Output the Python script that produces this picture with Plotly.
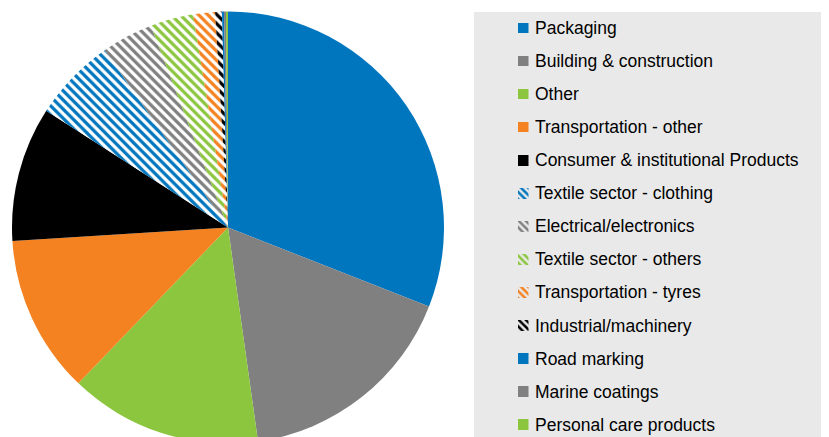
import plotly.graph_objects as go

W, H = 829, 437
OFF = 8  # page body margin offset

labels = ["Packaging", "Building & construction", "Other", "Transportation - other",
          "Consumer & institutional Products", "Textile sector - clothing",
          "Electrical/electronics", "Textile sector - others", "Transportation - tyres",
          "Industrial/machinery", "Road marking", "Marine coatings", "Personal care products"]
values = [30.96, 16.82, 14.39, 11.83, 10.08, 6.25, 3.86, 3.22, 1.64, 0.50, 0.15, 0.15, 0.15]
colors = ["#0076BE", "#808080", "#8CC63F", "#F58220", "#000000", "#0076BE", "#808080",
          "#8CC63F", "#F58220", "#000000", "#0076BE", "#808080", "#8CC63F"]
striped = [False, False, False, False, False, True, True, True, True, True, False, False, False]

shapes_pat = ["\\" if s else "" for s in striped]
bgc = ["white" if s else c for s, c in zip(striped, colors)]


def px_x(p):
    return (p - OFF) / W


def px_y(p):
    return 1 - (p - OFF) / H


cx, cy, r = 228, 227.5, 216
fig = go.Figure()
fig.add_trace(go.Pie(
    labels=labels, values=values, sort=False, direction="clockwise", rotation=0,
    marker=dict(colors=colors, line=dict(width=0),
                pattern=dict(shape=shapes_pat, fgcolor=colors, bgcolor=bgc, size=6.5,
                             solidity=0.5, fillmode="replace", fgopacity=1)),
    textinfo="none", hoverinfo="label+percent", showlegend=False,
    domain=dict(x=[px_x(cx - r), px_x(cx + r)], y=[px_y(cy + r), px_y(cy - r)]),
))

# manual legend swatches
n = len(labels)
idx = list(range(n))
first_c, step = 28.0, 33.06
fig.add_trace(go.Bar(
    x=[1] * n, y=idx, orientation="h", width=0.318,
    marker=dict(color=colors, line=dict(width=0),
                pattern=dict(shape=shapes_pat, fgcolor=colors, bgcolor=bgc, size=5,
                             solidity=0.5, fillmode="replace", fgopacity=1)),
    showlegend=False, hoverinfo="skip",
))

# y axis spans figure px 0..H; screen px = figure px + OFF
y_top = (OFF - first_c) / step
y_bot = (H + OFF - first_c) / step

for i, lab in enumerate(labels):
    fig.add_annotation(x=px_x(533), xref="paper", y=i, yref="y", text=lab, showarrow=False,
                       xanchor="left", yanchor="middle",
                       font=dict(family="Liberation Sans, Arial, sans-serif", size=17.5, color="#000000"))

fig.update_layout(
    width=W, height=H, margin=dict(l=0, r=0, t=0, b=0),
    paper_bgcolor="white", plot_bgcolor="rgba(0,0,0,0)",
    xaxis=dict(domain=[px_x(518), px_x(528.5)], range=[0, 1], visible=False, fixedrange=True),
    yaxis=dict(domain=[0, 1], range=[y_bot, y_top], visible=False, fixedrange=True),
    bargap=0,
    shapes=[dict(type="rect", xref="paper", yref="paper", x0=px_x(474), x1=1.0,
                 y0=0, y1=px_y(12), fillcolor="#E9E9E9", line=dict(width=0), layer="below")],
)

fig.write_html("out.html")
